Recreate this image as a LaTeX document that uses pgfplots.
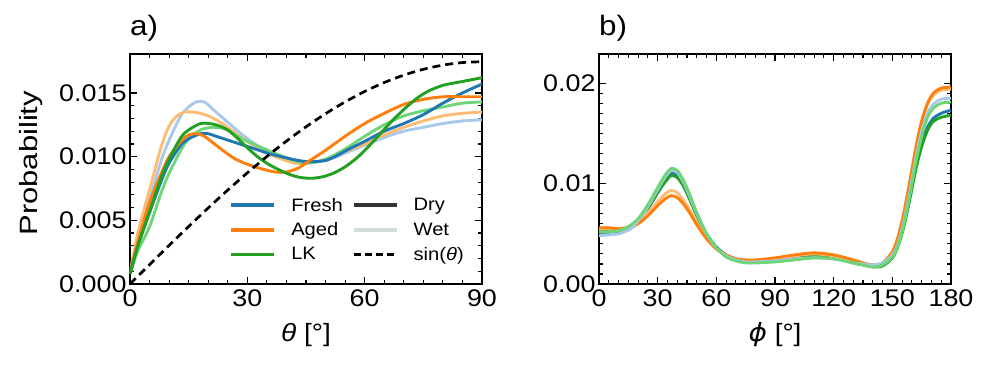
\documentclass[border=0pt]{standalone}
\usepackage{fontspec}
\setmainfont[FakeStretch=1.12]{Liberation Sans}
\newfontfamily\ylabfont[FakeStretch=1.24]{Liberation Sans}
\newfontfamily\dejavu[FakeStretch=1.12]{DejaVu Sans}
\usepackage{pgfplots}
\pgfplotsset{compat=1.18}
\definecolor{fd}{HTML}{1F77B4}
\definecolor{ad}{HTML}{FF7F0E}
\definecolor{ld}{HTML}{22A022}
\definecolor{fw}{HTML}{A8C8EC}
\definecolor{aw}{HTML}{FDBB74}
\definecolor{lw}{HTML}{6ED676}
\definecolor{drygrey}{HTML}{333333}
\definecolor{wetgrey}{HTML}{D2DDD6}
\begin{document}
\begin{tikzpicture}
\path[use as bounding box] (0,0) rectangle (993pt,367pt);
\pgfplotsset{
  common/.style={
    scale only axis, width=352pt, height=230pt,
    axis line style={line width=1.5pt},
    tick align=inside,
    major tick length=7pt, minor tick length=4pt,
    every tick/.style={black, line width=1.2pt},
    tick label style={font=\fontsize{24}{24}\selectfont},
    xticklabel style={yshift=-2pt, inner xsep=0pt},
    yticklabel style={inner ysep=0pt},
    xlabel style={font=\fontsize{25}{25}\selectfont, at={(axis description cs:0.5,-0.25)}, anchor=base},
    /pgf/number format/assume math mode=true,
    scaled y ticks=false,
    title style={at={(rel axis cs:0,1)}, anchor=base west, yshift=12pt, inner sep=0pt, font=\fontsize{28}{28}\selectfont},
    every axis plot/.append style={line width=2.9pt, smooth, tension=0.5},
  }
}
\begin{axis}[common,
  at={(130pt,83pt)}, anchor=south west,
  xmin=0, xmax=90, ymin=0, ymax=0.01806,
  xtick={0,30,60,90}, minor x tick num=5,
  ytick={0,0.005,0.010,0.015}, minor y tick num=4,
  yticklabel style={/pgf/number format/.cd, fixed, fixed zerofill, precision=3},
  title={a)},
  xlabel={\textit{θ} [°]},
  ylabel={Probability},
  ylabel style={font=\ylabfont\fontsize{25}{25}\selectfont, at={(axis description cs:-0.262,0.525)}, anchor=base},
  legend columns=2,
  legend style={draw=none, fill=none, at={(rel axis cs:0.282,0.383)}, anchor=north west,
    font=\fontsize{18}{18}\selectfont, row sep=6pt, inner sep=0pt,
    /tikz/every odd column/.style={column sep=13pt},
    /tikz/every even column/.style={column sep=7pt}},
  legend cell align=left,
  legend image code/.code={\draw[#1, line width=3.8pt] (0pt,0pt) -- (43pt,0pt);},
]
% wet
\addplot[fw, forget plot] coordinates {(0,0.0008) (2,0.0035) (5,0.0066) (8,0.0097) (10,0.0113) (13,0.0132) (15,0.0139) (17,0.0143) (19,0.0143) (22,0.0135) (25,0.0127) (28,0.0119) (31,0.0112) (34,0.0106) (38,0.0101) (43,0.0096) (48,0.0096) (52,0.0099) (56,0.0104) (60,0.0109) (65,0.0115) (70,0.0120) (75,0.0123) (80,0.0126) (85,0.0128) (90,0.0129)};
\addplot[aw, forget plot] coordinates {(0,0.0008) (2,0.0040) (5,0.0074) (8,0.0108) (10,0.0124) (12,0.0132) (14,0.0135) (16,0.0135) (18,0.0134) (20,0.0132) (22,0.0129) (25,0.0123) (28,0.0116) (31,0.0110) (34,0.0104) (38,0.0099) (42,0.0095) (46,0.0095) (50,0.0098) (55,0.0104) (60,0.0110) (65,0.0117) (70,0.0123) (75,0.0128) (80,0.0132) (85,0.0134) (90,0.0135)};
\addplot[lw, forget plot] coordinates {(0,0.0008) (2,0.0026) (5,0.0045) (8,0.0072) (10,0.0087) (13,0.0105) (15,0.0114) (18,0.0121) (21,0.0123) (24,0.0122) (27,0.0117) (30,0.0112) (33,0.0108) (36,0.0104) (40,0.0099) (43,0.0096) (46,0.0095) (50,0.0098) (55,0.0106) (60,0.0116) (65,0.0125) (70,0.0132) (75,0.0136) (80,0.0139) (85,0.0142) (90,0.0143)};
% dry
\addplot[fd, forget plot] coordinates {(0,0.0008) (2,0.0030) (5,0.0056) (8,0.0081) (10,0.0095) (13,0.0109) (15,0.0114) (18,0.0118) (20,0.0118) (22,0.0116) (25,0.0113) (28,0.0110) (30,0.0108) (33,0.0105) (36,0.0102) (40,0.0099) (43,0.0097) (46,0.0096) (50,0.0097) (53,0.0101) (56,0.0106) (60,0.0112) (65,0.0120) (70,0.0126) (75,0.0133) (80,0.0142) (85,0.0150) (90,0.0157)};
\addplot[ad, forget plot] coordinates {(0,0.0008) (2,0.0033) (5,0.0064) (8,0.0087) (10,0.0100) (13,0.0112) (15,0.0117) (17,0.0118) (19,0.0116) (22,0.0109) (25,0.0102) (27,0.0098) (30,0.0094) (33,0.0091) (37,0.0088) (40,0.0088) (43,0.0091) (46,0.0097) (50,0.0105) (55,0.0116) (60,0.0126) (65,0.0134) (70,0.0141) (75,0.0145) (80,0.0147) (85,0.0147) (90,0.0147)};
\addplot[ld, forget plot] coordinates {(0,0.0008) (2,0.0030) (5,0.0057) (8,0.0084) (10,0.0098) (13,0.0115) (15,0.0121) (18,0.0126) (20,0.0126) (22,0.0125) (25,0.0121) (28,0.0113) (30,0.0107) (33,0.0099) (36,0.0093) (40,0.0087) (43,0.0084) (46,0.0083) (49,0.0084) (52,0.0087) (55,0.0092) (58,0.0099) (61,0.0108) (64,0.0118) (67,0.0128) (70,0.0137) (73,0.0145) (76,0.0151) (80,0.0156) (85,0.0159) (90,0.0162)};
% sin reference
\addplot[black, dash pattern=on 8pt off 5pt, line width=2.7pt, forget plot] coordinates {(0,0) (5,0.001521) (10,0.003031) (15,0.004517) (20,0.005969) (25,0.007376) (30,0.008727) (35,0.010011) (40,0.011219) (45,0.012341) (50,0.013370) (55,0.014297) (60,0.015115) (65,0.015818) (70,0.016400) (75,0.016858) (80,0.017188) (85,0.017387) (90,0.017453)};
\addlegendimage{fd}\addlegendentry{Fresh}
\addlegendimage{drygrey}\addlegendentry{Dry}
\addlegendimage{ad}\addlegendentry{Aged}
\addlegendimage{wetgrey}\addlegendentry{Wet}
\addlegendimage{ld}\addlegendentry{LK}
\addlegendimage{legend image code/.code={\draw[black, line width=2.6pt, dash pattern=on 7pt off 4pt] (0pt,0pt) -- (43pt,0pt);}}\addlegendentry{sin(\textit{θ})}
\end{axis}

\begin{axis}[common,
  at={(599pt,83pt)}, anchor=south west,
  xmin=0, xmax=180, ymin=0, ymax=0.0229,
  xtick={0,30,60,90,120,150,180}, minor x tick num=5,
  ytick={0,0.01,0.02}, minor y tick num=9,
  yticklabel style={/pgf/number format/.cd, fixed, fixed zerofill, precision=2},
  title={b)},
  xlabel={{\dejavu\itshape ϕ} [°]},
]
\addplot[fd] coordinates {(0,0.0050) (5,0.0050) (10,0.0051) (15,0.0054) (20,0.0062) (25,0.0075) (30,0.0091) (34,0.0104) (37,0.0110) (40,0.0108) (43,0.0099) (46,0.0087) (50,0.0069) (55,0.0050) (60,0.0037) (65,0.0029) (70,0.0025) (75,0.0023) (80,0.0023) (90,0.0024) (100,0.0027) (110,0.0028) (120,0.0027) (130,0.0022) (135,0.0020) (140,0.0018) (145,0.0020) (150,0.0028) (153,0.0040) (156,0.0061) (159,0.0088) (162,0.0117) (165,0.0140) (168,0.0156) (171,0.0165) (175,0.0170) (180,0.0173)};
\addplot[ld] coordinates {(0,0.0054) (5,0.0054) (10,0.0054) (15,0.0057) (20,0.0064) (25,0.0076) (30,0.0091) (34,0.0102) (37,0.0108) (40,0.0106) (43,0.0098) (46,0.0086) (50,0.0068) (55,0.0049) (60,0.0036) (65,0.0028) (70,0.0024) (75,0.0022) (80,0.0022) (90,0.0024) (100,0.0027) (110,0.0029) (120,0.0027) (130,0.0021) (135,0.0019) (140,0.0017) (145,0.0018) (150,0.0026) (153,0.0038) (156,0.0058) (159,0.0085) (162,0.0114) (165,0.0137) (168,0.0153) (171,0.0162) (175,0.0166) (180,0.0168)};
\addplot[aw] coordinates {(0,0.0055) (5,0.0055) (10,0.0055) (15,0.0057) (20,0.0062) (25,0.0071) (30,0.0082) (34,0.0090) (37,0.0093) (40,0.0091) (43,0.0084) (46,0.0075) (50,0.0061) (55,0.0046) (60,0.0035) (65,0.0028) (70,0.0024) (75,0.0023) (80,0.0023) (90,0.0025) (100,0.0028) (110,0.0030) (120,0.0028) (130,0.0023) (135,0.0021) (140,0.0019) (145,0.0021) (150,0.0032) (153,0.0048) (156,0.0073) (159,0.0104) (162,0.0136) (165,0.0162) (168,0.0179) (171,0.0188) (175,0.0193) (180,0.0194)};
\addplot[ad] coordinates {(0,0.0056) (5,0.0056) (10,0.0055) (15,0.0056) (20,0.0060) (25,0.0068) (30,0.0078) (34,0.0085) (37,0.0088) (40,0.0086) (43,0.0080) (46,0.0072) (50,0.0059) (55,0.0045) (60,0.0035) (65,0.0029) (70,0.0025) (75,0.0024) (80,0.0024) (90,0.0026) (100,0.0029) (110,0.0031) (120,0.0029) (130,0.0024) (135,0.0021) (140,0.0019) (145,0.0021) (150,0.0032) (153,0.0047) (156,0.0071) (159,0.0102) (162,0.0135) (165,0.0162) (168,0.0180) (171,0.0190) (175,0.0195) (180,0.0196)};
\addplot[fw] coordinates {(0,0.0048) (5,0.0049) (10,0.0050) (15,0.0054) (20,0.0063) (25,0.0077) (30,0.0094) (34,0.0107) (37,0.0113) (40,0.0111) (43,0.0102) (46,0.0089) (50,0.0070) (55,0.0050) (60,0.0036) (65,0.0028) (70,0.0024) (75,0.0022) (80,0.0022) (90,0.0023) (100,0.0025) (110,0.0026) (120,0.0025) (130,0.0021) (135,0.0020) (140,0.0019) (145,0.0021) (150,0.0029) (153,0.0041) (156,0.0063) (159,0.0093) (162,0.0125) (165,0.0152) (168,0.0170) (171,0.0179) (175,0.0184) (180,0.0185)};
\addplot[lw] coordinates {(0,0.0052) (5,0.0052) (10,0.0053) (15,0.0057) (20,0.0065) (25,0.0079) (30,0.0096) (34,0.0109) (37,0.0115) (40,0.0113) (43,0.0104) (46,0.0091) (50,0.0071) (55,0.0050) (60,0.0036) (65,0.0027) (70,0.0023) (75,0.0021) (80,0.0021) (90,0.0022) (100,0.0024) (110,0.0026) (120,0.0025) (130,0.0021) (135,0.0019) (140,0.0017) (145,0.0019) (150,0.0027) (153,0.0039) (156,0.0060) (159,0.0089) (162,0.0121) (165,0.0147) (168,0.0166) (171,0.0175) (175,0.0180) (180,0.0181)};
\end{axis}
\end{tikzpicture}
\end{document}
